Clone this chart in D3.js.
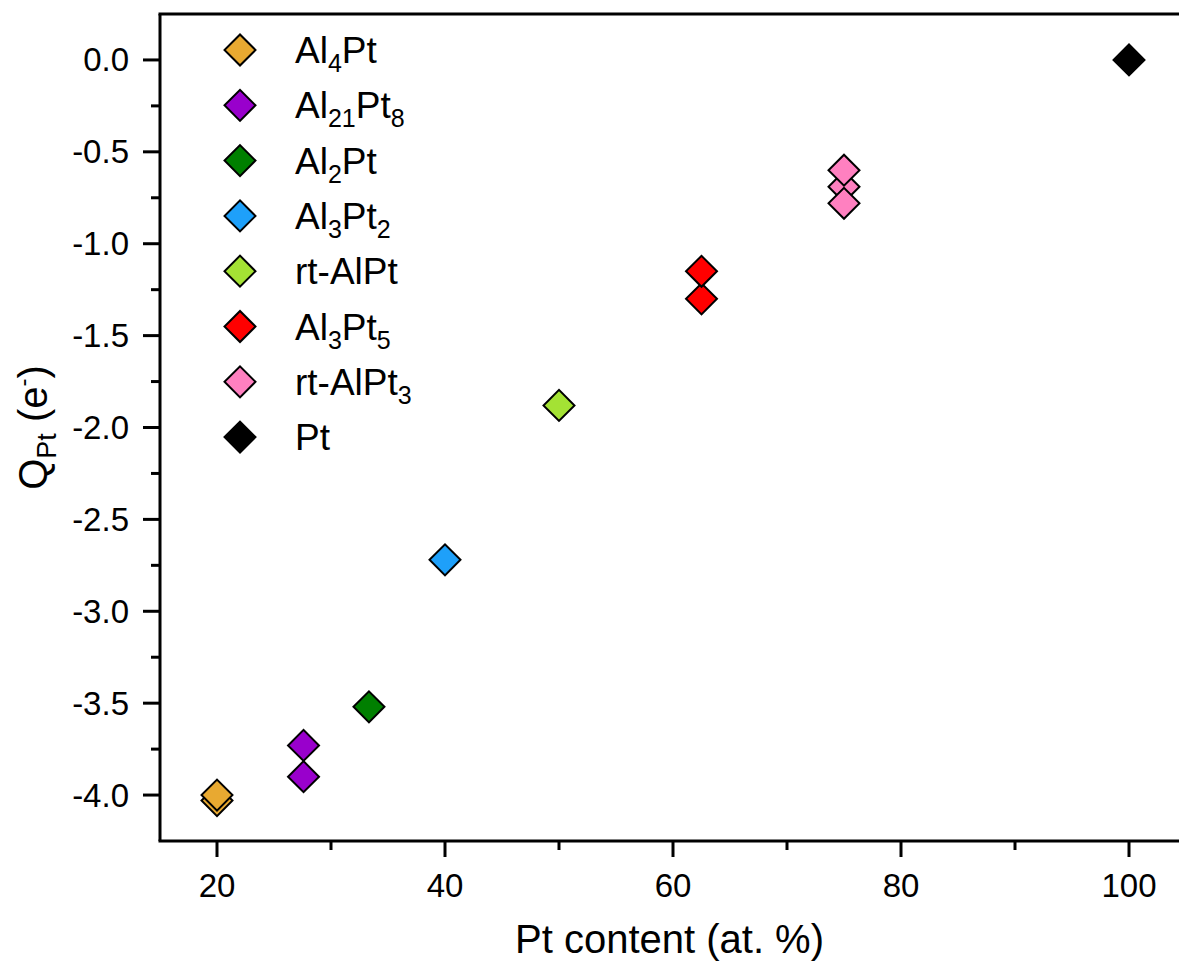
<!DOCTYPE html>
<html>
<head>
<meta charset="utf-8">
<script src="https://d3js.org/d3.v7.min.js"></script>
<style>
body { margin: 0; background: #fff; }
svg { display: block; font-family: Arial, "Liberation Sans", sans-serif; }
</style>
</head>
<body>
<div id="plot"></div>
<script>

// series names (formula parts: [text, subscript] pairs), colours and points
var names = [
	[["Al", "4"], ["Pt", ""]],
	[["Al", "21"], ["Pt", "8"]],
	[["Al", "2"], ["Pt", ""]],
	[["Al", "3"], ["Pt", "2"]],
	[["rt-AlPt", ""]],
	[["Al", "3"], ["Pt", "5"]],
	[["rt-AlPt", "3"]],
	[["Pt", ""]]
];
var colors = ["#E8A931", "#9900CC", "#007F00", "#1EA0FA", "#A4E234", "#FF0000", "#FF80C0", "#000000"];
var ptContent = [20, 27.59, 33.33, 40, 50, 62.5, 75, 100];
var charges = [
	[-4.03, -4.00],
	[-3.90, -3.73],
	[-3.52],
	[-2.72],
	[-1.88],
	[-1.30, -1.15],
	[-0.69, -0.60, -0.78],
	[0.0]
];

var xMajor = [20, 40, 60, 80, 100];
var xMinor = [30, 50, 70, 90];
var yMajor = [0, -0.5, -1, -1.5, -2, -2.5, -3, -3.5, -4];
var yMinor = [-0.25, -0.75, -1.25, -1.75, -2.25, -2.75, -3.25, -3.75];

var width = 1179, height = 963;
var plotLeft = 160, plotBottom = 841, plotTop = 14;

var svg = d3.select("#plot").append("svg").attr("width", width).attr("height", height);

var xScale = d3.scaleLinear().domain([15, 105]).range([plotLeft, 1186]);
var yScale = d3.scaleLinear().domain([-4.25, 0.25]).range([plotBottom, plotTop]);

// frame lines (right side is cut off by the picture)
var frame = svg.append("g").attr("stroke", "#000").attr("stroke-width", 3).attr("fill", "none");
frame.append("line").attr("x1", plotLeft - 1.5).attr("x2", width).attr("y1", plotBottom).attr("y2", plotBottom);
frame.append("line").attr("x1", plotLeft).attr("x2", plotLeft).attr("y1", plotTop).attr("y2", plotBottom);
frame.append("line").attr("x1", plotLeft - 1.5).attr("x2", width).attr("y1", plotTop).attr("y2", plotTop);

// x ticks
frame.selectAll(".xmaj").data(xMajor).enter().append("line")
.attr("x1", d => xScale(d)).attr("x2", d => xScale(d))
.attr("y1", plotBottom).attr("y2", plotBottom + 16);
frame.selectAll(".xmin").data(xMinor).enter().append("line")
.attr("x1", d => xScale(d)).attr("x2", d => xScale(d))
.attr("y1", plotBottom).attr("y2", plotBottom + 9);

// y ticks
frame.selectAll(".ymaj").data(yMajor).enter().append("line")
.attr("x1", plotLeft - 17).attr("x2", plotLeft)
.attr("y1", d => yScale(d)).attr("y2", d => yScale(d));
frame.selectAll(".ymin").data(yMinor).enter().append("line")
.attr("x1", plotLeft - 9).attr("x2", plotLeft)
.attr("y1", d => yScale(d)).attr("y2", d => yScale(d));

svg.selectAll(".xlab").data(xMajor).enter().append("text")
.attr("x", d => xScale(d)).attr("y", plotBottom + 56)
.attr("text-anchor", "middle").attr("font-size", 33)
.text(d => d);

svg.selectAll(".ylab").data(yMajor).enter().append("text")
.attr("x", plotLeft - 31).attr("y", d => yScale(d)).attr("dy", "0.35em")
.attr("text-anchor", "end").attr("font-size", 33)
.text(d => d3.format(".1f")(d).replace("\u2212", "-"));

// axis titles
svg.append("text")
.attr("x", (plotLeft + width) / 2).attr("y", 953)
.attr("text-anchor", "middle").attr("font-size", 40)
.text("Pt content (at. %)");

var yt = svg.append("text")
.attr("transform", "translate(47," + ((plotTop + plotBottom) / 2) + ") rotate(-90)")
.attr("text-anchor", "middle").attr("font-size", 40);
yt.append("tspan").text("Q");
yt.append("tspan").attr("font-size", 27).attr("dy", 9).text("Pt");
yt.append("tspan").attr("dy", -9).text(" (e");
yt.append("tspan").attr("font-size", 24).attr("dy", -16).text("-");
yt.append("tspan").attr("dy", 16).text(")");

// points
var diamond = d3.symbol().type(d3.symbolSquare).size(480);
var points = [];
charges.forEach(function (vals, i) {
	vals.forEach(function (v) { points.push({ series: i, x: ptContent[i], y: v }); });
});

svg.selectAll(".point").data(points).enter().append("path")
.attr("class", "point")
.attr("d", diamond)
.attr("transform", d => "translate(" + xScale(d.x) + "," + yScale(d.y) + ") rotate(45)")
.attr("fill", d => colors[d.series])
.attr("stroke", "#000").attr("stroke-width", 2);

// legend
var legend = svg.selectAll(".legend").data(names).enter().append("g")
.attr("class", "legend")
.attr("transform", (d, i) => "translate(240," + (50 + i * 55.3) + ")");

legend.append("path")
.attr("d", diamond)
.attr("transform", "rotate(45)")
.attr("fill", (d, i) => colors[i])
.attr("stroke", "#000").attr("stroke-width", 2);

legend.each(function (parts) {
	var t = d3.select(this).append("text")
	.attr("x", 55).attr("y", 13).attr("font-size", 37);
	var shift = 0;
	parts.forEach(function (p) {
		t.append("tspan").attr("dy", -shift).text(p[0]);
		shift = 0;
		if (p[1]) {
			t.append("tspan").attr("font-size", 25).attr("dy", 9).text(p[1]);
			shift = 9;
		}
	});
});

</script>
</body>
</html>
